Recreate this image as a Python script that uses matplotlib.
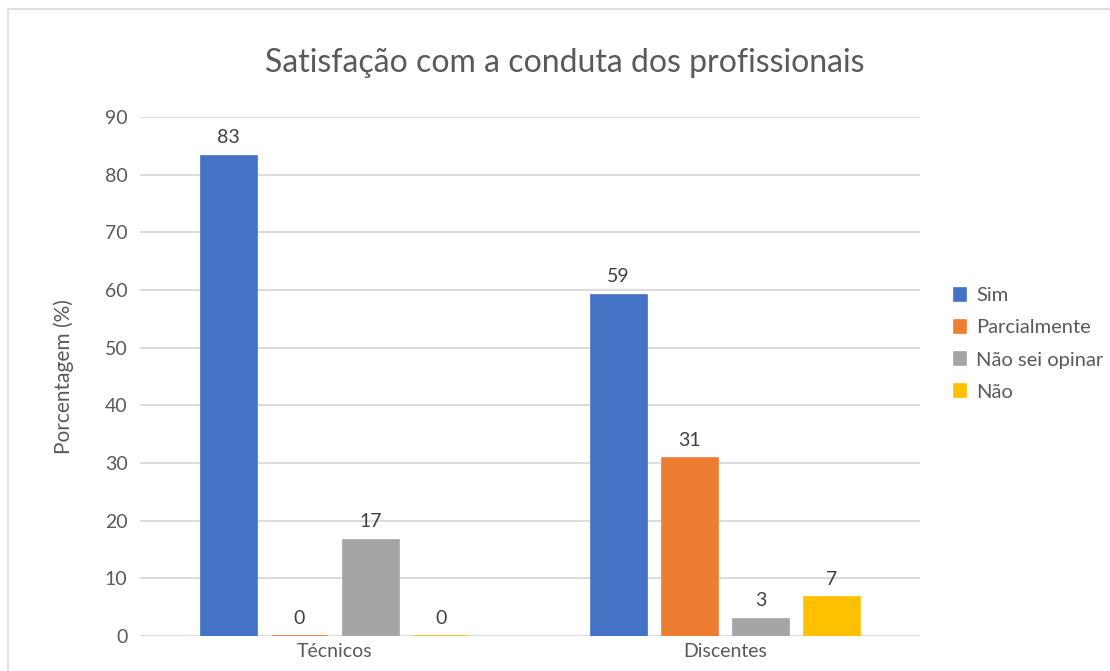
import matplotlib.pyplot as plt
import numpy as np
from matplotlib.patches import Rectangle

plt.rcParams['font.family'] = ['Lato', 'DejaVu Sans']

categories = ['Técnicos', 'Discentes']
series = ['Sim', 'Parcialmente', 'Não sei opinar', 'Não']
values = {
    'Sim': [83.3, 59.2],
    'Parcialmente': [0, 30.8],
    'Não sei opinar': [16.7, 3.0],
    'Não': [0, 6.8],
}
labels = {
    'Sim': ['83', '59'],
    'Parcialmente': ['0', '31'],
    'Não sei opinar': ['17', '3'],
    'Não': ['0', '7'],
}
colors = ['#4472C4', '#ED7D31', '#A5A5A5', '#FFC000']

fig = plt.figure(figsize=(11.1, 6.71), dpi=100)
ax = fig.add_axes([140/1110, 1 - 636/671, 780/1110, 519/671])

x = np.arange(len(categories)) + 0.5
w = 56/390.
step = 71/390.
for i, s in enumerate(series):
    xs = x + (i - 1.5)*step
    ax.bar(xs, values[s], w, color=colors[i], edgecolor=colors[i], lw=1.2, zorder=3, label=s)
    for xi, v, t in zip(xs, values[s], labels[s]):
        ax.text(xi, v + 1.6, t, ha='center', va='bottom', fontsize=14, color='#404040')

ax.set_xlim(0, 2)
ax.set_ylim(0, 90)
ax.set_yticks(range(0, 91, 10))
ax.set_xticks(x)
ax.set_xticklabels(categories)
ax.tick_params(length=0, labelsize=14, colors='#595959', pad=9)
ax.tick_params(axis='x', pad=5)
ax.grid(axis='y', color='#D9D9D9', lw=1.3, zorder=0)
for sp in ax.spines.values():
    sp.set_visible(False)
ax.set_ylabel('Porcentagem (%)', fontsize=15, color='#595959', labelpad=22)

fig.text(565/1110, 1 - 63/671, 'Satisfação com a conduta dos profissionais',
         ha='center', va='center', fontsize=23, color='#595959')

fig.legend(loc='center left', bbox_to_anchor=(936/1110, 1 - 344/671), frameon=False,
           fontsize=14.5, handlelength=0.6, handleheight=0.6, handletextpad=0.5,
           labelspacing=0.75, labelcolor='#595959')

fig.patches.append(Rectangle((8/1110, -0.1), 1.2, 1 - 9/671 + 0.1, transform=fig.transFigure,
                             fill=False, edgecolor='#D9D9D9', lw=1.2))

plt.savefig('out.png', dpi=100)
